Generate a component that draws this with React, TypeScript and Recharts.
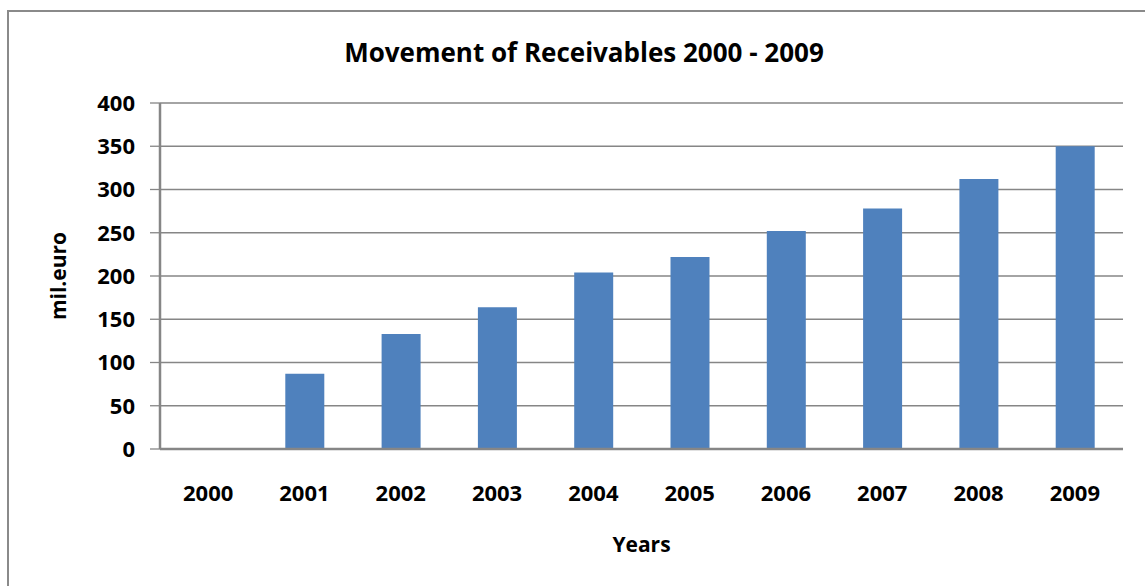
import React from 'react';
import { BarChart, Bar, XAxis, YAxis, CartesianGrid } from 'recharts';

const years = ['2000', '2001', '2002', '2003', '2004', '2005', '2006', '2007', '2008', '2009'];
const receivables = [0, 87, 133, 164, 204, 222, 252, 278, 312, 350];
const yTicks = [0, 50, 100, 150, 200, 250, 300, 350, 400];

const data = years.map((y, i) => ({ year: y, value: receivables[i] }));

const FONT = '"Open Sans", "Liberation Sans", sans-serif';

const YLabel = (props: any) => {
  const { viewBox } = props;
  const cy = viewBox.y + viewBox.height / 2;
  const cx = 58;
  return (
    <text
      x={cx}
      y={cy}
      transform={`rotate(-90, ${cx}, ${cy})`}
      textAnchor="middle"
      dominantBaseline="central"
      fontFamily={FONT}
      fontWeight={700}
      fontSize={21}
      fill="#000"
    >
      mil.euro
    </text>
  );
};

const XLabel = (props: any) => {
  const { viewBox } = props;
  const cx = viewBox.x + viewBox.width / 2;
  return (
    <text
      x={cx}
      y={552}
      textAnchor="middle"
      fontFamily={FONT}
      fontWeight={700}
      fontSize={21}
      fill="#000"
    >
      Years
    </text>
  );
};

export default function App() {
  return (
    <div style={{ position: 'absolute', left: 0, top: 0, width: 1145, height: 586, overflow: 'hidden', background: '#fff' }}>
      <div
        style={{
          position: 'absolute',
          left: 7,
          top: 10,
          width: 1300,
          height: 800,
          border: '2px solid #8a8a8a',
          boxSizing: 'border-box',
        }}
      />
      <div
        style={{
          position: 'absolute',
          left: 0,
          top: 34,
          width: 1168,
          textAlign: 'center',
          fontFamily: FONT,
          fontWeight: 700,
          fontSize: 26,
          lineHeight: '36px',
          color: '#000',
        }}
      >
        Movement of Receivables 2000 - 2009
      </div>
      <div style={{ position: 'absolute', left: 0, top: 0 }}>
        <BarChart
          width={1145}
          height={586}
          data={data}
          margin={{ top: 103, right: 22, bottom: 0, left: 100 }}
          barSize={39}
        >
          <CartesianGrid vertical={false} stroke="#868686" strokeWidth={1.3} />
          <XAxis
            dataKey="year"
            height={137}
            tickLine={false}
            tickSize={0}
            tickMargin={36}
            axisLine={{ stroke: '#868686', strokeWidth: 2.5 }}
            tick={{ fill: '#000', fontFamily: FONT, fontWeight: 700, fontSize: 22 }}
            label={<XLabel />}
          />
          <YAxis
            width={60}
            domain={[0, 400]}
            ticks={yTicks}
            interval={0}
            tickSize={10}
            tickMargin={15}
            tickLine={{ stroke: '#868686', strokeWidth: 1.3 }}
            axisLine={{ stroke: '#868686', strokeWidth: 2.5 }}
            tick={{ fill: '#000', fontFamily: FONT, fontWeight: 700, fontSize: 22 }}
            label={<YLabel />}
          />
          <Bar dataKey="value" fill="#4f81bd" isAnimationActive={false} />
        </BarChart>
      </div>
    </div>
  );
}
